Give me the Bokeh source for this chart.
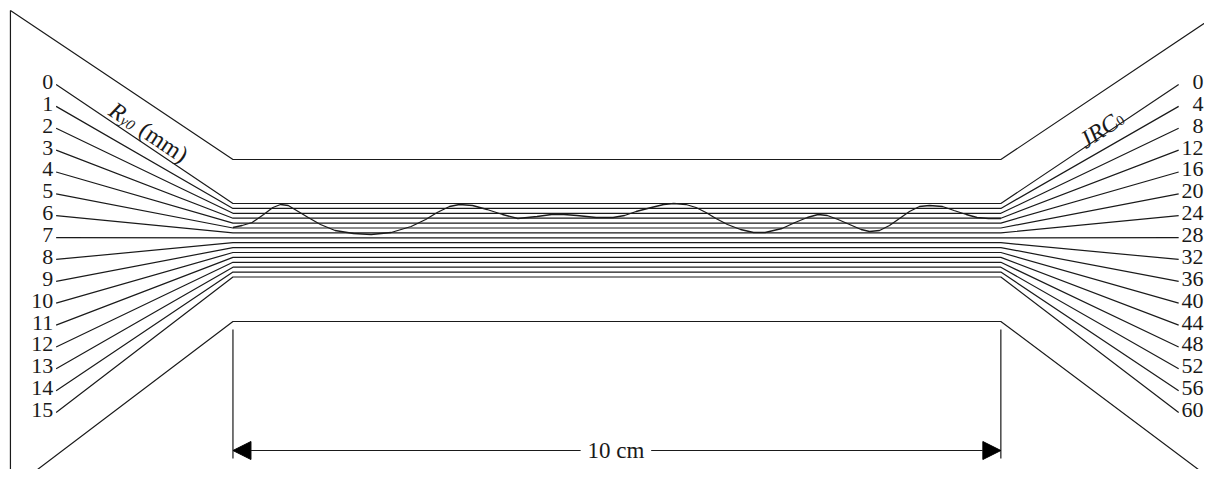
import math
from bokeh.plotting import figure
from bokeh.models import Range1d, Arrow, NormalHead
from bokeh.core.properties import value
from bokeh.embed import file_html
from bokeh.resources import INLINE

# ---------------- data ----------------
left_labels = [str(v) for v in [0, 1, 2, 3, 4, 5, 6, 7, 8, 9, 10, 11, 12, 13, 14, 15]]   # R_y0 (mm)
right_labels = [str(v) for v in [0, 4, 8, 12, 16, 20, 24, 28, 32, 36, 40, 44, 48, 52, 56, 60]]  # JRC0
profile_x_cm = [0.00, 0.12, 0.25, 0.40, 0.52, 0.62, 0.72, 0.85, 0.98, 1.14,
                1.33, 1.57, 1.80, 2.06, 2.32, 2.51, 2.66, 2.82, 2.95, 3.12,
                3.31, 3.51, 3.71, 3.96, 4.15, 4.31, 4.48, 4.73, 4.95, 5.10,
                5.25, 5.45, 5.61, 5.74, 5.90, 6.03, 6.16, 6.29, 6.44, 6.61,
                6.78, 6.93, 7.15, 7.32, 7.48, 7.62, 7.74, 7.88, 8.03, 8.18,
                8.29, 8.42, 8.55, 8.68, 8.81, 8.94, 9.07, 9.24, 9.39, 9.55,
                9.69, 9.84, 10.00]
profile_h = [-9, -7, -4, 4, 11, 14, 13, 7, 1, -6,
             -12, -15, -16, -14, -8, -1, 6, 12, 14, 13,
             9, 4, 0, 2, 4, 4, 3, 1, 1, 3,
             7, 11, 14, 15, 14, 11, 6, 0, -6, -11,
             -14, -14, -10, -4, 1, 4, 3, -1, -6, -11,
             -13, -12, -7, 0, 7, 12, 13, 12, 8, 4,
             1, 0, 0]
length_label = "10 cm"

# ---------------- geometry (diagram units ~ screen px) ----------------
XL, XR = 234.0, 1007.0          # ends of the 10 cm specimen
CM = (XR - XL) / 10.0
Y_TOP, Y_BOT = 159.0, 321.0
BUNDLE_Y0, BUNDLE_DY = 203.0, 4.9
LAB_Y0, LAB_DY = 84.0, 21.87
X_LSTART, X_REND = 56.0, 1186.0
PROFILE_BASE = 218.0
INK = "#1a1a1a"
FONT = value("Liberation Serif")

p = figure(width=1204, height=469, x_range=Range1d(0, 1212), y_range=Range1d(469, 0),
           output_backend="svg", toolbar_location=None, min_border=0,
           x_axis_location=None, y_axis_location=None)
p.grid.visible = False
p.outline_line_color = None
p.background_fill_color = "white"
p.border_fill_color = "white"

# outer outline
p.line([10, 10], [10, 490], line_color=INK, line_width=1.2)
p.line([10, XL, XR, 1222], [10, Y_TOP, Y_TOP, 16], line_color=INK, line_width=1.2)
p.line([12, XL, XR, 1222], [488, Y_BOT, Y_BOT, 481], line_color=INK, line_width=1.2)

# fan of lines
n = len(left_labels)
xs, ys = [], []
for i in range(n):
    ly = LAB_Y0 + i * LAB_DY
    by = BUNDLE_Y0 + i * BUNDLE_DY
    xs.append([X_LSTART, XL, XR, X_REND])
    ys.append([ly, by, by, ly])
p.multi_line(xs, ys, line_color=INK, line_width=1.2)

# labels
p.text(x=[53] * n, y=[LAB_Y0 + i * LAB_DY - 2.5 for i in range(n)], text=left_labels,
       text_font=FONT, text_font_size="22px", text_align="right", text_baseline="middle",
       text_color=INK)
p.text(x=[1211] * n, y=[LAB_Y0 + i * LAB_DY - 2.5 for i in range(n)], text=right_labels,
       text_font=FONT, text_font_size="22px", text_align="right", text_baseline="middle",
       text_color=INK)

# joint profile
px = [XL + v * CM for v in profile_x_cm]
py = [PROFILE_BASE - h for h in profile_h]
p.line(px, py, line_color=INK, line_width=1.3)

# dimension
p.line([XL, XL], [329, 458], line_color=INK, line_width=1.2)
p.line([XR, XR], [329, 458], line_color=INK, line_width=1.2)
p.add_layout(Arrow(x_start=584, y_start=450, x_end=XL, y_end=450, line_color=INK, line_width=1.2,
                   end=NormalHead(size=18, fill_color="black", line_color="black")))
p.add_layout(Arrow(x_start=655, y_start=450, x_end=XR, y_end=450, line_color=INK, line_width=1.2,
                   end=NormalHead(size=18, fill_color="black", line_color="black")))
p.text(x=[619.5], y=[450], text=[length_label], text_font=FONT, text_font_size="23px",
       text_align="center", text_baseline="middle", text_color=INK)

# rotated axis captions
th = math.atan2(Y_TOP - 10, XL - 10)
d = (math.cos(th), math.sin(th))
nup = (math.sin(th), -math.cos(th))
x0, y0 = 112.0, 107.0
FS = 24
wR = 0.611 * FS
wsub = (0.444 + 0.5) * 15
p.text(x=[x0], y=[y0], text=["R"], angle=-th, text_font=FONT, text_font_style="italic",
       text_font_size=f"{FS}px", text_baseline="alphabetic", text_align="left", text_color=INK)
sx = x0 + wR * d[0] - 4 * nup[0]
sy = y0 + wR * d[1] - 4 * nup[1]
p.text(x=[sx], y=[sy], text=["y0"], angle=-th, text_font=FONT, text_font_style="italic",
       text_font_size="15px", text_baseline="alphabetic", text_align="left", text_color=INK)
gap = wR + wsub + 0.3 * FS
mx = x0 + gap * d[0]
my = y0 + gap * d[1]
p.text(x=[mx], y=[my], text=["(mm)"], angle=-th, text_font=FONT,
       text_font_size=f"{FS}px", text_baseline="alphabetic", text_align="left", text_color=INK)

th2 = math.atan2(Y_TOP - 16, 1222 - XR)
d2 = (math.cos(th2), -math.sin(th2))
n2 = (-math.sin(th2), -math.cos(th2))
jx, jy = 1088.0, 142.0
wJRC = (0.444 + 0.611 + 0.667) * FS
p.text(x=[jx], y=[jy], text=["JRC"], angle=th2, text_font=FONT, text_font_style="italic",
       text_font_size=f"{FS}px", text_baseline="alphabetic", text_align="left", text_color=INK)
p.text(x=[jx + wJRC * d2[0] - 3 * n2[0]], y=[jy + wJRC * d2[1] - 3 * n2[1]], text=["0"],
       angle=th2, text_font=FONT, text_font_size="14px", text_baseline="alphabetic",
       text_align="left", text_color=INK)

open("out.html", "w").write(file_html(p, INLINE))
